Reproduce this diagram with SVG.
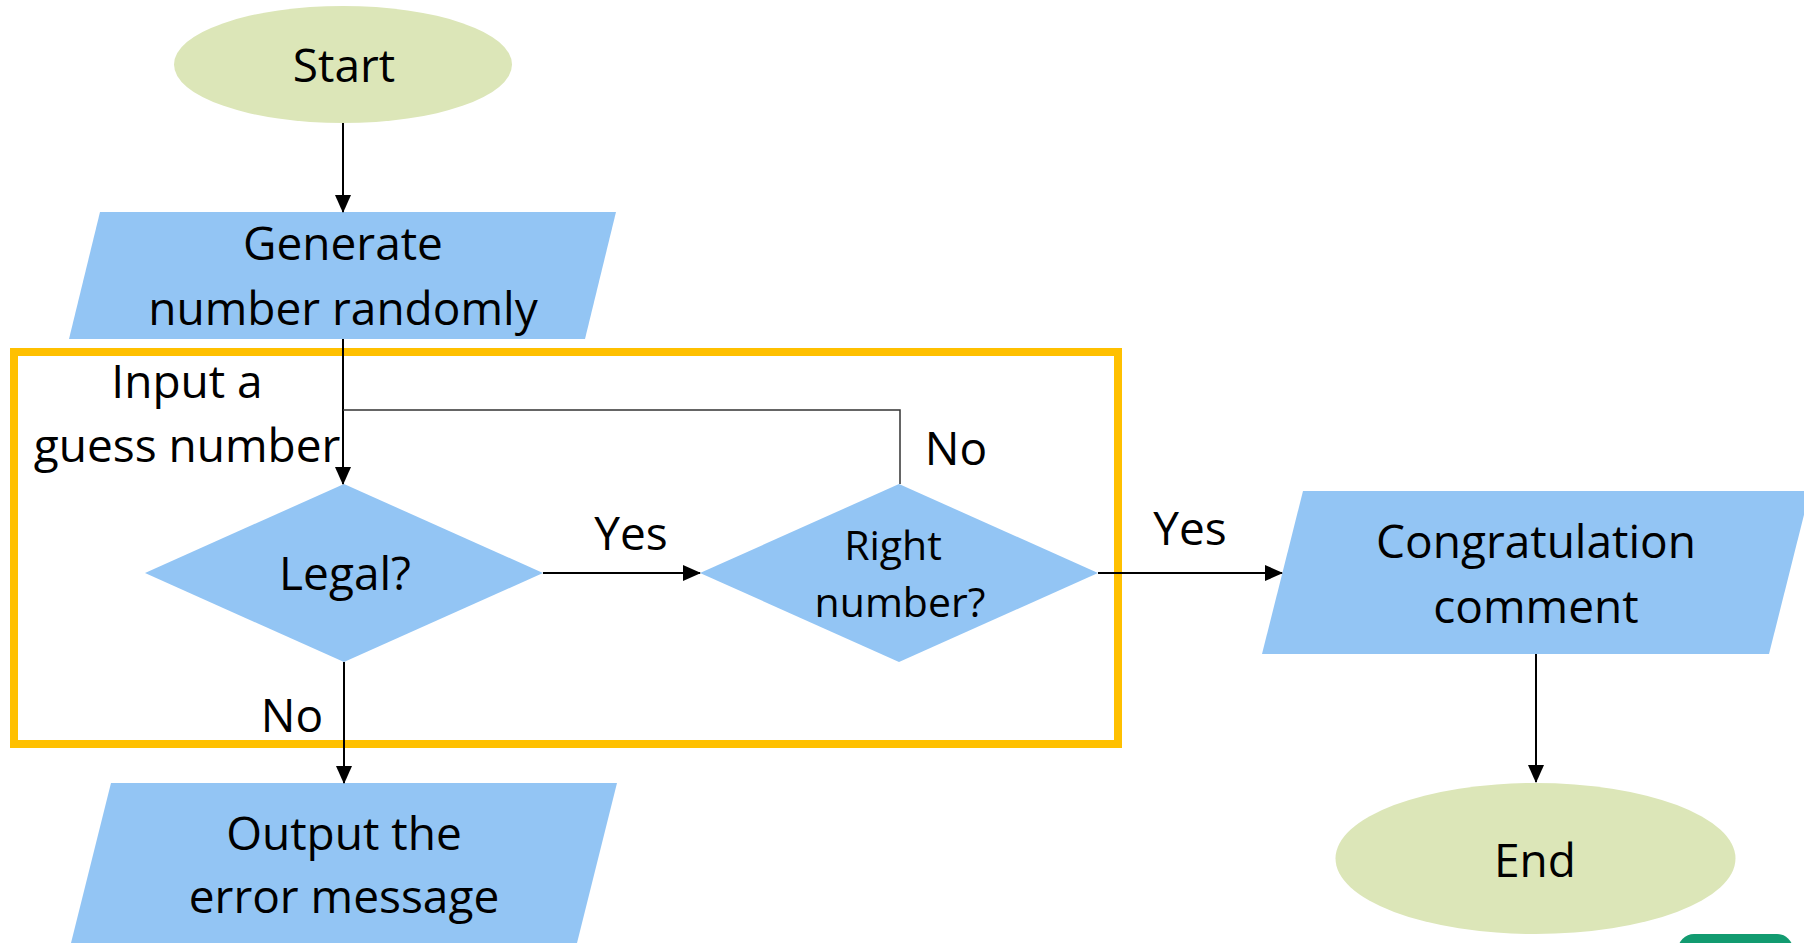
<svg xmlns="http://www.w3.org/2000/svg" width="1804" height="943" viewBox="0 0 1804 943">
<style>
.term{fill:#DCE6B8}
.io{fill:#93C5F4}
.dec{fill:#93C5F4}
text{font-family:"Open Sans",Lato,"Liberation Sans",sans-serif;fill:#000;text-anchor:middle;font-size:46px}
.sm{font-size:41px}
.ln{stroke:#000;stroke-width:2;fill:none}
.fb{stroke:#333;stroke-width:1.5;fill:none}
</style>
<defs>
<marker id="ah" markerWidth="18" markerHeight="16" refX="17" refY="8" orient="auto" markerUnits="userSpaceOnUse">
<path d="M0,0 L18,8 L0,16 Z" fill="#000"/>
</marker>
</defs>
<rect width="1804" height="943" fill="#fff"/>
<rect id="loop-box" x="14" y="352" width="1104" height="392" fill="none" stroke="#FFC000" stroke-width="8"/>
<g id="start"><ellipse class="term" cx="343" cy="64.5" rx="169" ry="58.5"/><text x="344" y="82">Start</text></g>
<g id="generate"><polygon class="io" points="100,212 616,212 585,339 69,339"/><text x="343" y="260">Generate</text><text x="343" y="325">number randomly</text></g>
<g id="input-label"><text x="187" y="398">Input a</text><text x="187" y="462">guess number</text></g>
<g id="legal"><polygon class="dec" points="344,484 543,573 344,662 145,573"/><text x="345" y="590">Legal?</text></g>
<g id="right"><polygon class="dec" points="899,484 1098,573 899,662 700,573"/><text class="sm" x="893" y="560">Right</text><text class="sm" x="900" y="617">number?</text></g>
<g id="congrats"><polygon class="io" points="1303,491 1810,491 1769,654 1262,654"/><text x="1536" y="558">Congratulation</text><text x="1536" y="623">comment</text></g>
<g id="end"><ellipse class="term" cx="1535.5" cy="858.5" rx="200" ry="75.5"/><text x="1535" y="877">End</text></g>
<g id="output"><polygon class="io" points="111,783 617,783 577,943 71,943"/><text x="344" y="850">Output the</text><text x="344" y="913">error message</text></g>
<rect id="corner-badge" x="1678" y="934" width="115" height="40" rx="16" fill="#129B70"/>
<g id="connectors">
<path class="ln" d="M343,123 L343,212" marker-end="url(#ah)"/>
<path class="ln" d="M343,339 L343,484" marker-end="url(#ah)"/>
<path class="fb" d="M900,484 L900,410 L343,410"/>
<path class="ln" d="M543,573 L700,573" marker-end="url(#ah)"/>
<path class="ln" d="M1098,573 L1282,573" marker-end="url(#ah)"/>
<path class="ln" d="M344,662 L344,783" marker-end="url(#ah)"/>
<path class="ln" d="M1536,654 L1536,782" marker-end="url(#ah)"/>
<text x="631" y="550">Yes</text>
<text x="956" y="465">No</text>
<text x="1190" y="545">Yes</text>
<text x="292" y="732">No</text>
</g>
</svg>
